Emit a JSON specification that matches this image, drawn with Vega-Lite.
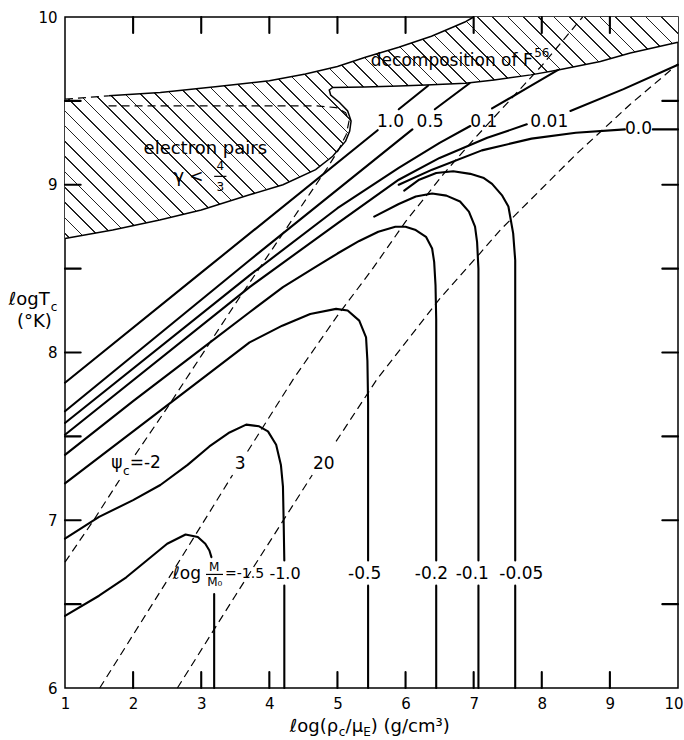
{
"$schema": "https://vega.github.io/schema/vega-lite/v6.json",
"width": 613, "height": 671,
"autosize": {"type": "none"},
"padding": {"left": 65, "top": 17, "right": 6, "bottom": 52},
"config": {"font": "DejaVu Sans", "view": {"stroke": "black", "strokeWidth": 1.5}, "axis": {"grid": false}},
"resolve": {"axis": {"x": "independent", "y": "independent"}},
"datasets": {
"hatch": [
{"o":1,"x":1,"y":8.68},{"o":2,"x":1,"y":9.51},{"o":3,"x":1.64,"y":9.53},{"o":4,"x":2.4,"y":9.55},{"o":5,"x":3.24,"y":9.585},{"o":6,"x":4.0,"y":9.62},{"o":7,"x":4.53,"y":9.66},{"o":8,"x":5.0,"y":9.705},{"o":9,"x":5.41,"y":9.76},{"o":10,"x":5.9,"y":9.82},{"o":11,"x":6.38,"y":9.885},{"o":12,"x":6.7,"y":9.94},{"o":13,"x":6.87,"y":9.97},{"o":14,"x":7.0,"y":10.0},{"o":15,"x":10,"y":10},{"o":16,"x":10,"y":9.85},{"o":17,"x":9.3,"y":9.785},{"o":18,"x":8.86,"y":9.735},{"o":19,"x":8.24,"y":9.684},{"o":20,"x":7.84,"y":9.655},{"o":21,"x":7.3,"y":9.625},{"o":22,"x":6.88,"y":9.605},{"o":23,"x":6.3,"y":9.595},{"o":24,"x":5.9,"y":9.588},{"o":25,"x":5.4,"y":9.583},{"o":26,"x":4.93,"y":9.58},{"o":27,"x":4.88,"y":9.565},{"o":28,"x":4.9,"y":9.535},{"o":29,"x":5.03,"y":9.49},{"o":30,"x":5.15,"y":9.44},{"o":31,"x":5.2,"y":9.38},{"o":32,"x":5.18,"y":9.32},{"o":33,"x":5.12,"y":9.26},{"o":34,"x":4.93,"y":9.17},{"o":35,"x":4.68,"y":9.09},{"o":36,"x":4.2,"y":9.0},{"o":37,"x":3.71,"y":8.94},{"o":38,"x":3.0,"y":8.85},{"o":39,"x":2.39,"y":8.79},{"o":40,"x":1.7,"y":8.73},{"o":41,"x":1,"y":8.68}
],
"bnd": [
{"id":"up","o":1,"x":1.64,"y":9.53},{"id":"up","o":2,"x":2.4,"y":9.55},{"id":"up","o":3,"x":3.24,"y":9.585},{"id":"up","o":4,"x":4.0,"y":9.62},{"id":"up","o":5,"x":4.53,"y":9.66},{"id":"up","o":6,"x":5.0,"y":9.705},{"id":"up","o":7,"x":5.41,"y":9.76},{"id":"up","o":8,"x":5.9,"y":9.82},{"id":"up","o":9,"x":6.38,"y":9.885},{"id":"up","o":10,"x":6.7,"y":9.94},{"id":"up","o":11,"x":6.87,"y":9.97},{"id":"up","o":12,"x":7.0,"y":10.0},
{"id":"low","o":1,"x":10,"y":9.85},{"id":"low","o":2,"x":9.3,"y":9.785},{"id":"low","o":3,"x":8.86,"y":9.735},{"id":"low","o":4,"x":8.24,"y":9.684},{"id":"low","o":5,"x":7.84,"y":9.655},{"id":"low","o":6,"x":7.3,"y":9.625},{"id":"low","o":7,"x":6.88,"y":9.605},{"id":"low","o":8,"x":6.3,"y":9.595},{"id":"low","o":9,"x":5.9,"y":9.588},{"id":"low","o":10,"x":5.4,"y":9.583},{"id":"low","o":11,"x":4.93,"y":9.58},{"id":"low","o":12,"x":4.88,"y":9.565},{"id":"low","o":13,"x":4.9,"y":9.535},{"id":"low","o":14,"x":5.03,"y":9.49},{"id":"low","o":15,"x":5.15,"y":9.44},{"id":"low","o":16,"x":5.2,"y":9.38},{"id":"low","o":17,"x":5.18,"y":9.32},{"id":"low","o":18,"x":5.12,"y":9.26},{"id":"low","o":19,"x":4.93,"y":9.17},{"id":"low","o":20,"x":4.68,"y":9.09},{"id":"low","o":21,"x":4.2,"y":9.0},{"id":"low","o":22,"x":3.71,"y":8.94},{"id":"low","o":23,"x":3.0,"y":8.85},{"id":"low","o":24,"x":2.39,"y":8.79},{"id":"low","o":25,"x":1.7,"y":8.73},{"id":"low","o":26,"x":1,"y":8.68}
],
"psi": [
{"id":"hb","o":1,"x":1,"y":9.51},{"id":"hb","o":2,"x":1.64,"y":9.53},
{"id":"s2a","o":1,"x":1,"y":6.75},{"id":"s2a","o":2,"x":1.42,"y":7.0},{"id":"s2a","o":3,"x":1.8,"y":7.24},
{"id":"s2b","o":1,"x":2.03,"y":7.39},{"id":"s2b","o":2,"x":2.5,"y":7.67},{"id":"s2b","o":3,"x":3.0,"y":7.98},{"id":"s2b","o":4,"x":3.5,"y":8.29},{"id":"s2b","o":5,"x":4.0,"y":8.59},{"id":"s2b","o":6,"x":4.25,"y":8.74},{"id":"s2b","o":7,"x":4.6,"y":8.95},{"id":"s2b","o":8,"x":4.85,"y":9.1},{"id":"s2b","o":9,"x":5.02,"y":9.21},{"id":"s2b","o":10,"x":5.13,"y":9.3},{"id":"s2b","o":11,"x":5.17,"y":9.38},{"id":"s2b","o":12,"x":5.12,"y":9.43},{"id":"s2b","o":13,"x":4.98,"y":9.46},{"id":"s2b","o":14,"x":4.7,"y":9.47},{"id":"s2b","o":15,"x":3.0,"y":9.47},{"id":"s2b","o":16,"x":1.61,"y":9.47},
{"id":"s3a","o":1,"x":1.51,"y":6.0},{"id":"s3a","o":2,"x":2.5,"y":6.64},{"id":"s3a","o":3,"x":3.46,"y":7.27},
{"id":"s3b","o":1,"x":3.68,"y":7.41},{"id":"s3b","o":2,"x":4.35,"y":7.84},{"id":"s3b","o":3,"x":5.0,"y":8.22},{"id":"s3b","o":4,"x":5.5,"y":8.49},{"id":"s3b","o":5,"x":6.0,"y":8.78},{"id":"s3b","o":6,"x":6.55,"y":9.06},{"id":"s3b","o":7,"x":7.0,"y":9.27},{"id":"s3b","o":8,"x":7.5,"y":9.49},{"id":"s3b","o":9,"x":8.0,"y":9.71},{"id":"s3b","o":10,"x":8.6,"y":10.0},
{"id":"s20a","o":1,"x":2.65,"y":6.0},{"id":"s20a","o":2,"x":3.5,"y":6.55},{"id":"s20a","o":3,"x":4.63,"y":7.27},
{"id":"s20b","o":1,"x":4.98,"y":7.47},{"id":"s20b","o":2,"x":5.58,"y":7.84},{"id":"s20b","o":3,"x":6.5,"y":8.32},{"id":"s20b","o":4,"x":7.09,"y":8.59},{"id":"s20b","o":5,"x":7.39,"y":8.73},{"id":"s20b","o":6,"x":8.5,"y":9.18},{"id":"s20b","o":7,"x":9.3,"y":9.48},{"id":"s20b","o":8,"x":10,"y":9.72}
],
"mass": [
{"id":"p10a","o":1,"x":1,"y":7.82},{"id":"p10a","o":2,"x":3,"y":8.476},{"id":"p10a","o":3,"x":5.59,"y":9.325},
{"id":"p10b","o":1,"x":5.9,"y":9.45},{"id":"p10b","o":2,"x":6.33,"y":9.59},
{"id":"p05a","o":1,"x":1,"y":7.65},{"id":"p05a","o":2,"x":3.71,"y":8.55},{"id":"p05a","o":3,"x":6.1,"y":9.33},
{"id":"p05b","o":1,"x":6.43,"y":9.45},{"id":"p05b","o":2,"x":6.94,"y":9.605},
{"id":"p01a","o":1,"x":1,"y":7.58},{"id":"p01a","o":2,"x":3.71,"y":8.46},{"id":"p01a","o":3,"x":5,"y":8.86},{"id":"p01a","o":4,"x":5.9,"y":9.1},{"id":"p01a","o":5,"x":6.5,"y":9.25},{"id":"p01a","o":6,"x":6.95,"y":9.35},
{"id":"p01b","o":1,"x":7.27,"y":9.455},{"id":"p01b","o":2,"x":7.8,"y":9.58},{"id":"p01b","o":3,"x":8.24,"y":9.685},
{"id":"p001a","o":1,"x":1,"y":7.51},{"id":"p001a","o":2,"x":3.71,"y":8.39},{"id":"p001a","o":3,"x":5,"y":8.77},{"id":"p001a","o":4,"x":5.9,"y":9.03},{"id":"p001a","o":5,"x":6.5,"y":9.16},{"id":"p001a","o":6,"x":7.2,"y":9.28},{"id":"p001a","o":7,"x":7.78,"y":9.36},
{"id":"p001b","o":1,"x":8.42,"y":9.44},{"id":"p001b","o":2,"x":9.2,"y":9.57},{"id":"p001b","o":3,"x":10,"y":9.715},
{"id":"p00a","o":1,"x":5.9,"y":9.0},{"id":"p00a","o":2,"x":6.39,"y":9.09},{"id":"p00a","o":3,"x":7.12,"y":9.205},{"id":"p00a","o":4,"x":7.85,"y":9.275},{"id":"p00a","o":5,"x":8.5,"y":9.31},{"id":"p00a","o":6,"x":9.22,"y":9.33},
{"id":"p00b","o":1,"x":9.63,"y":9.33},{"id":"p00b","o":2,"x":10,"y":9.33},
{"id":"m005a","o":1,"x":5.98,"y":8.965},{"id":"m005a","o":2,"x":6.2,"y":9.03},{"id":"m005a","o":3,"x":6.45,"y":9.07},{"id":"m005a","o":4,"x":6.7,"y":9.08},{"id":"m005a","o":5,"x":6.95,"y":9.065},{"id":"m005a","o":6,"x":7.15,"y":9.04},{"id":"m005a","o":7,"x":7.27,"y":9.005},{"id":"m005a","o":8,"x":7.42,"y":8.935},{"id":"m005a","o":9,"x":7.51,"y":8.87},{"id":"m005a","o":10,"x":7.58,"y":8.71},{"id":"m005a","o":11,"x":7.61,"y":8.55},{"id":"m005a","o":12,"x":7.61,"y":6.76},
{"id":"m005b","o":1,"x":7.61,"y":6.61},{"id":"m005b","o":2,"x":7.61,"y":6.0},
{"id":"m01a","o":1,"x":5.54,"y":8.81},{"id":"m01a","o":2,"x":5.9,"y":8.885},{"id":"m01a","o":3,"x":6.15,"y":8.93},{"id":"m01a","o":4,"x":6.39,"y":8.948},{"id":"m01a","o":5,"x":6.6,"y":8.935},{"id":"m01a","o":6,"x":6.8,"y":8.9},{"id":"m01a","o":7,"x":6.93,"y":8.84},{"id":"m01a","o":8,"x":7.02,"y":8.75},{"id":"m01a","o":9,"x":7.05,"y":8.66},{"id":"m01a","o":10,"x":7.07,"y":8.5},{"id":"m01a","o":11,"x":7.07,"y":6.76},
{"id":"m01b","o":1,"x":7.07,"y":6.61},{"id":"m01b","o":2,"x":7.07,"y":6.0},
{"id":"m02a","o":1,"x":1,"y":7.39},{"id":"m02a","o":2,"x":2,"y":7.71},{"id":"m02a","o":3,"x":3,"y":8.02},{"id":"m02a","o":4,"x":3.71,"y":8.24},{"id":"m02a","o":5,"x":4.2,"y":8.39},{"id":"m02a","o":6,"x":4.68,"y":8.51},{"id":"m02a","o":7,"x":5.0,"y":8.59},{"id":"m02a","o":8,"x":5.32,"y":8.665},{"id":"m02a","o":9,"x":5.6,"y":8.72},{"id":"m02a","o":10,"x":5.85,"y":8.75},{"id":"m02a","o":11,"x":6.0,"y":8.75},{"id":"m02a","o":12,"x":6.15,"y":8.73},{"id":"m02a","o":13,"x":6.3,"y":8.69},{"id":"m02a","o":14,"x":6.39,"y":8.62},{"id":"m02a","o":15,"x":6.42,"y":8.54},{"id":"m02a","o":16,"x":6.44,"y":8.4},{"id":"m02a","o":17,"x":6.45,"y":8.2},{"id":"m02a","o":18,"x":6.45,"y":6.76},
{"id":"m02b","o":1,"x":6.45,"y":6.61},{"id":"m02b","o":2,"x":6.45,"y":6.0},
{"id":"m05a","o":1,"x":1,"y":7.22},{"id":"m05a","o":2,"x":2,"y":7.53},{"id":"m05a","o":3,"x":3,"y":7.84},{"id":"m05a","o":4,"x":3.71,"y":8.06},{"id":"m05a","o":5,"x":4.19,"y":8.16},{"id":"m05a","o":6,"x":4.6,"y":8.23},{"id":"m05a","o":7,"x":4.98,"y":8.26},{"id":"m05a","o":8,"x":5.15,"y":8.25},{"id":"m05a","o":9,"x":5.32,"y":8.19},{"id":"m05a","o":10,"x":5.42,"y":8.09},{"id":"m05a","o":11,"x":5.44,"y":7.95},{"id":"m05a","o":12,"x":5.45,"y":7.7},{"id":"m05a","o":13,"x":5.45,"y":6.76},
{"id":"m05b","o":1,"x":5.45,"y":6.61},{"id":"m05b","o":2,"x":5.45,"y":6.0},
{"id":"m10a","o":1,"x":1,"y":6.89},{"id":"m10a","o":2,"x":1.5,"y":7.02},{"id":"m10a","o":3,"x":2,"y":7.12},{"id":"m10a","o":4,"x":2.4,"y":7.21},{"id":"m10a","o":5,"x":2.8,"y":7.33},{"id":"m10a","o":6,"x":3.12,"y":7.44},{"id":"m10a","o":7,"x":3.4,"y":7.52},{"id":"m10a","o":8,"x":3.66,"y":7.57},{"id":"m10a","o":9,"x":3.85,"y":7.56},{"id":"m10a","o":10,"x":3.98,"y":7.53},{"id":"m10a","o":11,"x":4.1,"y":7.45},{"id":"m10a","o":12,"x":4.17,"y":7.33},{"id":"m10a","o":13,"x":4.2,"y":7.2},{"id":"m10a","o":14,"x":4.21,"y":7.0},{"id":"m10a","o":15,"x":4.22,"y":6.76},
{"id":"m10b","o":1,"x":4.22,"y":6.61},{"id":"m10b","o":2,"x":4.22,"y":6.0},
{"id":"m15a","o":1,"x":1,"y":6.43},{"id":"m15a","o":2,"x":1.5,"y":6.55},{"id":"m15a","o":3,"x":1.9,"y":6.66},{"id":"m15a","o":4,"x":2.2,"y":6.76},{"id":"m15a","o":5,"x":2.5,"y":6.86},{"id":"m15a","o":6,"x":2.77,"y":6.915},{"id":"m15a","o":7,"x":2.95,"y":6.9},{"id":"m15a","o":8,"x":3.06,"y":6.86},{"id":"m15a","o":9,"x":3.12,"y":6.82},{"id":"m15a","o":10,"x":3.15,"y":6.78},
{"id":"m15b","o":1,"x":3.19,"y":6.56},{"id":"m15b","o":2,"x":3.19,"y":6.0},
{"id":"kb2","o":1,"x":2,"y":6},{"id":"kb2","o":2,"x":2,"y":6.095},{"id":"kb3","o":1,"x":3,"y":6},{"id":"kb3","o":2,"x":3,"y":6.095},{"id":"kb4","o":1,"x":4,"y":6},{"id":"kb4","o":2,"x":4,"y":6.095},{"id":"kb5","o":1,"x":5,"y":6},{"id":"kb5","o":2,"x":5,"y":6.095},{"id":"kb6","o":1,"x":6,"y":6},{"id":"kb6","o":2,"x":6,"y":6.095},{"id":"kb7","o":1,"x":7,"y":6},{"id":"kb7","o":2,"x":7,"y":6.095},{"id":"kb8","o":1,"x":8,"y":6},{"id":"kb8","o":2,"x":8,"y":6.095},{"id":"kb9","o":1,"x":9,"y":6},{"id":"kb9","o":2,"x":9,"y":6.095},
{"id":"kt2","o":1,"x":2,"y":10},{"id":"kt2","o":2,"x":2,"y":9.905},{"id":"kt3","o":1,"x":3,"y":10},{"id":"kt3","o":2,"x":3,"y":9.905},{"id":"kt4","o":1,"x":4,"y":10},{"id":"kt4","o":2,"x":4,"y":9.905},{"id":"kt5","o":1,"x":5,"y":10},{"id":"kt5","o":2,"x":5,"y":9.905},{"id":"kt6","o":1,"x":6,"y":10},{"id":"kt6","o":2,"x":6,"y":9.905},{"id":"kt7","o":1,"x":7,"y":10},{"id":"kt7","o":2,"x":7,"y":9.905},{"id":"kt8","o":1,"x":8,"y":10},{"id":"kt8","o":2,"x":8,"y":9.905},{"id":"kt9","o":1,"x":9,"y":10},{"id":"kt9","o":2,"x":9,"y":9.905},
{"id":"kl65","o":1,"x":1,"y":6.5},{"id":"kl65","o":2,"x":1.23,"y":6.5},{"id":"kl70","o":1,"x":1,"y":7},{"id":"kl70","o":2,"x":1.23,"y":7},{"id":"kl75","o":1,"x":1,"y":7.5},{"id":"kl75","o":2,"x":1.23,"y":7.5},{"id":"kl80","o":1,"x":1,"y":8},{"id":"kl80","o":2,"x":1.23,"y":8},{"id":"kl85","o":1,"x":1,"y":8.5},{"id":"kl85","o":2,"x":1.23,"y":8.5},{"id":"kl90","o":1,"x":1,"y":9},{"id":"kl90","o":2,"x":1.23,"y":9},{"id":"kl95","o":1,"x":1,"y":9.5},{"id":"kl95","o":2,"x":1.23,"y":9.5},
{"id":"kr65","o":1,"x":10,"y":6.5},{"id":"kr65","o":2,"x":9.77,"y":6.5},{"id":"kr70","o":1,"x":10,"y":7},{"id":"kr70","o":2,"x":9.77,"y":7},{"id":"kr75","o":1,"x":10,"y":7.5},{"id":"kr75","o":2,"x":9.77,"y":7.5},{"id":"kr80","o":1,"x":10,"y":8},{"id":"kr80","o":2,"x":9.77,"y":8},{"id":"kr85","o":1,"x":10,"y":8.5},{"id":"kr85","o":2,"x":9.77,"y":8.5},{"id":"kr90","o":1,"x":10,"y":9},{"id":"kr90","o":2,"x":9.77,"y":9},{"id":"kr95","o":1,"x":10,"y":9.5},{"id":"kr95","o":2,"x":9.77,"y":9.5}
],
"bars": [{"x":3.07,"x2":3.32,"y":6.677},{"x":3.19,"x2":3.37,"y":9.05}],
"txt": [
{"k":"c","t":"1.0","x":5.78,"y":9.372},{"k":"c","t":"0.5","x":6.36,"y":9.372},{"k":"c","t":"0.1","x":7.15,"y":9.372},{"k":"c","t":"0.01","x":8.11,"y":9.372},{"k":"c","t":"0.0","x":9.42,"y":9.335},
{"k":"m","t":"-1.0","x":4.23,"y":6.68},{"k":"c","t":"-0.5","x":5.4,"y":6.68},{"k":"c","t":"-0.2","x":6.38,"y":6.68},{"k":"c","t":"-0.1","x":6.98,"y":6.68},{"k":"c","t":"-0.05","x":7.7,"y":6.68},
{"k":"c","t":"3","x":3.57,"y":7.335},{"k":"c","t":"20","x":4.8,"y":7.335},{"k":"c","t":"ℓog","x":2.79,"y":6.68},{"k":"c","t":"ψ","x":1.76,"y":7.34},{"k":"c","t":"<","x":2.93,"y":9.045},
{"k":"l","t":"=-2","x":1.95,"y":7.34},{"k":"l","t":"decomposition of F","x":5.49,"y":9.74},
{"k":"n","t":"=-1.5","x":3.35,"y":6.68},
{"k":"s","t":"c","x":1.9,"y":7.295},{"k":"s","t":"M","x":3.19,"y":6.72},{"k":"s","t":"M₀","x":3.2,"y":6.63},{"k":"s","t":"4","x":3.28,"y":9.11},{"k":"s","t":"3","x":3.28,"y":8.985},{"k":"s","t":"56","x":8.0,"y":9.785},
{"k":"e","t":"electron pairs","x":3.06,"y":9.215},{"k":"e","t":"γ","x":2.67,"y":9.045},{"k":"e","t":"(°K)","x":0.55,"y":8.18},
{"k":"t","t":"ℓog(ρ","x":4.3,"y":5.77},{"k":"t","t":"/μ","x":5.12,"y":5.77},{"k":"t","t":") (g/cm³)","x":5.49,"y":5.77},
{"k":"ts","t":"c","x":5.02,"y":5.735},{"k":"ts","t":"E","x":5.38,"y":5.735},{"k":"ts","t":"c","x":0.79,"y":8.27},
{"k":"tr","t":"ℓogT","x":0.775,"y":8.31}
]
},
"encoding": {
"x": {"field": "x", "type": "quantitative", "scale": {"domain": [1, 10], "nice": false, "zero": false}, "axis": null},
"y": {"field": "y", "type": "quantitative", "scale": {"domain": [6, 10], "nice": false, "zero": false}, "axis": null}
},
"layer": [
{"data": {"name": "hatch"},
 "mark": {"type": "line", "clip": false, "strokeOpacity": 0, "strokeWidth": 0,
  "fill": {"gradient": "linear", "x1": 0, "y1": 1, "x2": 1.2041, "y2": 0.5651, "stops": [
{"offset":0,"color":"#fff"},
{"offset":0.0050,"color":"#fff"},{"offset":0.0050,"color":"#222"},{"offset":0.0069,"color":"#222"},{"offset":0.0069,"color":"#fff"},
{"offset":0.0234,"color":"#fff"},{"offset":0.0234,"color":"#222"},{"offset":0.0253,"color":"#222"},{"offset":0.0253,"color":"#fff"},
{"offset":0.0418,"color":"#fff"},{"offset":0.0418,"color":"#222"},{"offset":0.0437,"color":"#222"},{"offset":0.0437,"color":"#fff"},
{"offset":0.0601,"color":"#fff"},{"offset":0.0601,"color":"#222"},{"offset":0.0620,"color":"#222"},{"offset":0.0620,"color":"#fff"},
{"offset":0.0785,"color":"#fff"},{"offset":0.0785,"color":"#222"},{"offset":0.0804,"color":"#222"},{"offset":0.0804,"color":"#fff"},
{"offset":0.0969,"color":"#fff"},{"offset":0.0969,"color":"#222"},{"offset":0.0988,"color":"#222"},{"offset":0.0988,"color":"#fff"},
{"offset":0.1153,"color":"#fff"},{"offset":0.1153,"color":"#222"},{"offset":0.1172,"color":"#222"},{"offset":0.1172,"color":"#fff"},
{"offset":0.1337,"color":"#fff"},{"offset":0.1337,"color":"#222"},{"offset":0.1356,"color":"#222"},{"offset":0.1356,"color":"#fff"},
{"offset":0.1520,"color":"#fff"},{"offset":0.1520,"color":"#222"},{"offset":0.1539,"color":"#222"},{"offset":0.1539,"color":"#fff"},
{"offset":0.1704,"color":"#fff"},{"offset":0.1704,"color":"#222"},{"offset":0.1723,"color":"#222"},{"offset":0.1723,"color":"#fff"},
{"offset":0.1888,"color":"#fff"},{"offset":0.1888,"color":"#222"},{"offset":0.1907,"color":"#222"},{"offset":0.1907,"color":"#fff"},
{"offset":0.2072,"color":"#fff"},{"offset":0.2072,"color":"#222"},{"offset":0.2091,"color":"#222"},{"offset":0.2091,"color":"#fff"},
{"offset":0.2256,"color":"#fff"},{"offset":0.2256,"color":"#222"},{"offset":0.2275,"color":"#222"},{"offset":0.2275,"color":"#fff"},
{"offset":0.2439,"color":"#fff"},{"offset":0.2439,"color":"#222"},{"offset":0.2458,"color":"#222"},{"offset":0.2458,"color":"#fff"},
{"offset":0.2623,"color":"#fff"},{"offset":0.2623,"color":"#222"},{"offset":0.2642,"color":"#222"},{"offset":0.2642,"color":"#fff"},
{"offset":0.2807,"color":"#fff"},{"offset":0.2807,"color":"#222"},{"offset":0.2826,"color":"#222"},{"offset":0.2826,"color":"#fff"},
{"offset":0.2991,"color":"#fff"},{"offset":0.2991,"color":"#222"},{"offset":0.3010,"color":"#222"},{"offset":0.3010,"color":"#fff"},
{"offset":0.3175,"color":"#fff"},{"offset":0.3175,"color":"#222"},{"offset":0.3194,"color":"#222"},{"offset":0.3194,"color":"#fff"},
{"offset":0.3358,"color":"#fff"},{"offset":0.3358,"color":"#222"},{"offset":0.3377,"color":"#222"},{"offset":0.3377,"color":"#fff"},
{"offset":0.3542,"color":"#fff"},{"offset":0.3542,"color":"#222"},{"offset":0.3561,"color":"#222"},{"offset":0.3561,"color":"#fff"},
{"offset":0.3726,"color":"#fff"},{"offset":0.3726,"color":"#222"},{"offset":0.3745,"color":"#222"},{"offset":0.3745,"color":"#fff"},
{"offset":0.3910,"color":"#fff"},{"offset":0.3910,"color":"#222"},{"offset":0.3929,"color":"#222"},{"offset":0.3929,"color":"#fff"},
{"offset":0.4094,"color":"#fff"},{"offset":0.4094,"color":"#222"},{"offset":0.4113,"color":"#222"},{"offset":0.4113,"color":"#fff"},
{"offset":0.4277,"color":"#fff"},{"offset":0.4277,"color":"#222"},{"offset":0.4296,"color":"#222"},{"offset":0.4296,"color":"#fff"},
{"offset":0.4461,"color":"#fff"},{"offset":0.4461,"color":"#222"},{"offset":0.4480,"color":"#222"},{"offset":0.4480,"color":"#fff"},
{"offset":0.4645,"color":"#fff"},{"offset":0.4645,"color":"#222"},{"offset":0.4664,"color":"#222"},{"offset":0.4664,"color":"#fff"},
{"offset":0.4829,"color":"#fff"},{"offset":0.4829,"color":"#222"},{"offset":0.4848,"color":"#222"},{"offset":0.4848,"color":"#fff"},
{"offset":0.5013,"color":"#fff"},{"offset":0.5013,"color":"#222"},{"offset":0.5032,"color":"#222"},{"offset":0.5032,"color":"#fff"},
{"offset":0.5196,"color":"#fff"},{"offset":0.5196,"color":"#222"},{"offset":0.5215,"color":"#222"},{"offset":0.5215,"color":"#fff"},
{"offset":0.5380,"color":"#fff"},{"offset":0.5380,"color":"#222"},{"offset":0.5399,"color":"#222"},{"offset":0.5399,"color":"#fff"},
{"offset":0.5564,"color":"#fff"},{"offset":0.5564,"color":"#222"},{"offset":0.5583,"color":"#222"},{"offset":0.5583,"color":"#fff"},
{"offset":0.5748,"color":"#fff"},{"offset":0.5748,"color":"#222"},{"offset":0.5767,"color":"#222"},{"offset":0.5767,"color":"#fff"},
{"offset":0.5932,"color":"#fff"},{"offset":0.5932,"color":"#222"},{"offset":0.5951,"color":"#222"},{"offset":0.5951,"color":"#fff"},
{"offset":0.6115,"color":"#fff"},{"offset":0.6115,"color":"#222"},{"offset":0.6134,"color":"#222"},{"offset":0.6134,"color":"#fff"},
{"offset":0.6299,"color":"#fff"},{"offset":0.6299,"color":"#222"},{"offset":0.6318,"color":"#222"},{"offset":0.6318,"color":"#fff"},
{"offset":0.6483,"color":"#fff"},{"offset":0.6483,"color":"#222"},{"offset":0.6502,"color":"#222"},{"offset":0.6502,"color":"#fff"},
{"offset":0.6667,"color":"#fff"},{"offset":0.6667,"color":"#222"},{"offset":0.6686,"color":"#222"},{"offset":0.6686,"color":"#fff"},
{"offset":0.6851,"color":"#fff"},{"offset":0.6851,"color":"#222"},{"offset":0.6870,"color":"#222"},{"offset":0.6870,"color":"#fff"},
{"offset":0.7034,"color":"#fff"},{"offset":0.7034,"color":"#222"},{"offset":0.7053,"color":"#222"},{"offset":0.7053,"color":"#fff"},
{"offset":0.7218,"color":"#fff"},{"offset":0.7218,"color":"#222"},{"offset":0.7237,"color":"#222"},{"offset":0.7237,"color":"#fff"},
{"offset":0.7402,"color":"#fff"},{"offset":0.7402,"color":"#222"},{"offset":0.7421,"color":"#222"},{"offset":0.7421,"color":"#fff"},
{"offset":0.7586,"color":"#fff"},{"offset":0.7586,"color":"#222"},{"offset":0.7605,"color":"#222"},{"offset":0.7605,"color":"#fff"},
{"offset":0.7770,"color":"#fff"},{"offset":0.7770,"color":"#222"},{"offset":0.7789,"color":"#222"},{"offset":0.7789,"color":"#fff"},
{"offset":0.7953,"color":"#fff"},{"offset":0.7953,"color":"#222"},{"offset":0.7972,"color":"#222"},{"offset":0.7972,"color":"#fff"},
{"offset":0.8137,"color":"#fff"},{"offset":0.8137,"color":"#222"},{"offset":0.8156,"color":"#222"},{"offset":0.8156,"color":"#fff"},
{"offset":0.8321,"color":"#fff"},{"offset":0.8321,"color":"#222"},{"offset":0.8340,"color":"#222"},{"offset":0.8340,"color":"#fff"},
{"offset":0.8505,"color":"#fff"},{"offset":0.8505,"color":"#222"},{"offset":0.8524,"color":"#222"},{"offset":0.8524,"color":"#fff"},
{"offset":0.8689,"color":"#fff"},{"offset":0.8689,"color":"#222"},{"offset":0.8708,"color":"#222"},{"offset":0.8708,"color":"#fff"},
{"offset":0.8872,"color":"#fff"},{"offset":0.8872,"color":"#222"},{"offset":0.8891,"color":"#222"},{"offset":0.8891,"color":"#fff"},
{"offset":0.9056,"color":"#fff"},{"offset":0.9056,"color":"#222"},{"offset":0.9075,"color":"#222"},{"offset":0.9075,"color":"#fff"},
{"offset":0.9240,"color":"#fff"},{"offset":0.9240,"color":"#222"},{"offset":0.9259,"color":"#222"},{"offset":0.9259,"color":"#fff"},
{"offset":0.9424,"color":"#fff"},{"offset":0.9424,"color":"#222"},{"offset":0.9443,"color":"#222"},{"offset":0.9443,"color":"#fff"},
{"offset":0.9608,"color":"#fff"},{"offset":0.9608,"color":"#222"},{"offset":0.9627,"color":"#222"},{"offset":0.9627,"color":"#fff"},
{"offset":0.9791,"color":"#fff"},{"offset":0.9791,"color":"#222"},{"offset":0.9810,"color":"#222"},{"offset":0.9810,"color":"#fff"},
{"offset":1,"color":"#fff"}
  ]}},
 "encoding": {
  "x": {"field": "x", "type": "quantitative", "scale": {"domain": [1, 10], "nice": false, "zero": false},
        "axis": {"orient": "bottom", "values": [1,2,3,4,5,6,7,8,9,10], "title": null, "domain": false, "ticks": false, "labelPadding": 8, "labelFontSize": 15, "labelColor": "black", "labelFlush": false, "labelOverlap": false, "labelExpr": "format(datum.value, 'd')",
                 "labelAlign": {"condition": {"test": "datum.value === 10", "value": "right"}, "value": "center"},
                 "labelOffset": {"condition": {"test": "datum.value === 10", "value": 5}, "value": 0}}},
  "y": {"field": "y", "type": "quantitative", "scale": {"domain": [6, 10], "nice": false, "zero": false},
        "axis": {"orient": "left", "values": [6,7,8,9,10], "title": null, "domain": false, "ticks": false, "labelPadding": 8, "labelFontSize": 15, "labelColor": "black", "labelFlush": false, "labelOverlap": false, "labelExpr": "format(datum.value, 'd')"}},
  "order": {"field": "o", "type": "quantitative"}
 }
},
{"data": {"name": "bnd"},
 "mark": {"type": "line", "color": "black", "strokeWidth": 1.5, "clip": false},
 "encoding": {"detail": {"field": "id"}, "order": {"field": "o", "type": "quantitative"}}
},
{"data": {"name": "psi"},
 "mark": {"type": "line", "color": "black", "strokeWidth": 1.2, "strokeDash": [8, 5], "clip": false},
 "encoding": {"detail": {"field": "id"}, "order": {"field": "o", "type": "quantitative"}}
},
{"data": {"name": "mass"},
 "mark": {"type": "line", "color": "black", "strokeWidth": 2.1, "strokeCap": "round", "strokeJoin": "round", "clip": false},
 "encoding": {"detail": {"field": "id"}, "order": {"field": "o", "type": "quantitative"}}
},
{"data": {"name": "bars"},
 "mark": {"type": "rule", "color": "black", "strokeWidth": 1.2},
 "encoding": {"x2": {"field": "x2"}}
},
{"data": {"name": "txt"}, "transform": [{"filter": "datum.k === 'c'"}],
 "mark": {"type": "text", "fontSize": 17, "align": "center", "baseline": "middle", "color": "black", "clip": false},
 "encoding": {"text": {"field": "t"}}
},
{"data": {"name": "txt"}, "transform": [{"filter": "datum.k === 'm'"}],
 "mark": {"type": "text", "fontSize": 16, "align": "center", "baseline": "middle", "color": "black", "clip": false},
 "encoding": {"text": {"field": "t"}}
},
{"data": {"name": "txt"}, "transform": [{"filter": "datum.k === 'l'"}],
 "mark": {"type": "text", "fontSize": 17, "align": "left", "baseline": "middle", "color": "black", "clip": false},
 "encoding": {"text": {"field": "t"}}
},
{"data": {"name": "txt"}, "transform": [{"filter": "datum.k === 'n'"}],
 "mark": {"type": "text", "fontSize": 14, "align": "left", "baseline": "middle", "color": "black", "clip": false},
 "encoding": {"text": {"field": "t"}}
},
{"data": {"name": "txt"}, "transform": [{"filter": "datum.k === 's'"}],
 "mark": {"type": "text", "fontSize": 12, "align": "center", "baseline": "middle", "color": "black", "clip": false},
 "encoding": {"text": {"field": "t"}}
},
{"data": {"name": "txt"}, "transform": [{"filter": "datum.k === 'e'"}],
 "mark": {"type": "text", "fontSize": 18, "align": "center", "baseline": "middle", "color": "black", "clip": false},
 "encoding": {"text": {"field": "t"}}
},
{"data": {"name": "txt"}, "transform": [{"filter": "datum.k === 't'"}],
 "mark": {"type": "text", "fontSize": 18, "align": "left", "baseline": "middle", "color": "black", "clip": false},
 "encoding": {"text": {"field": "t"}}
},
{"data": {"name": "txt"}, "transform": [{"filter": "datum.k === 'ts'"}],
 "mark": {"type": "text", "fontSize": 12, "align": "left", "baseline": "middle", "color": "black", "clip": false},
 "encoding": {"text": {"field": "t"}}
},
{"data": {"name": "txt"}, "transform": [{"filter": "datum.k === 'tr'"}],
 "mark": {"type": "text", "fontSize": 18, "align": "right", "baseline": "middle", "color": "black", "clip": false},
 "encoding": {"text": {"field": "t"}}
}
]
}
